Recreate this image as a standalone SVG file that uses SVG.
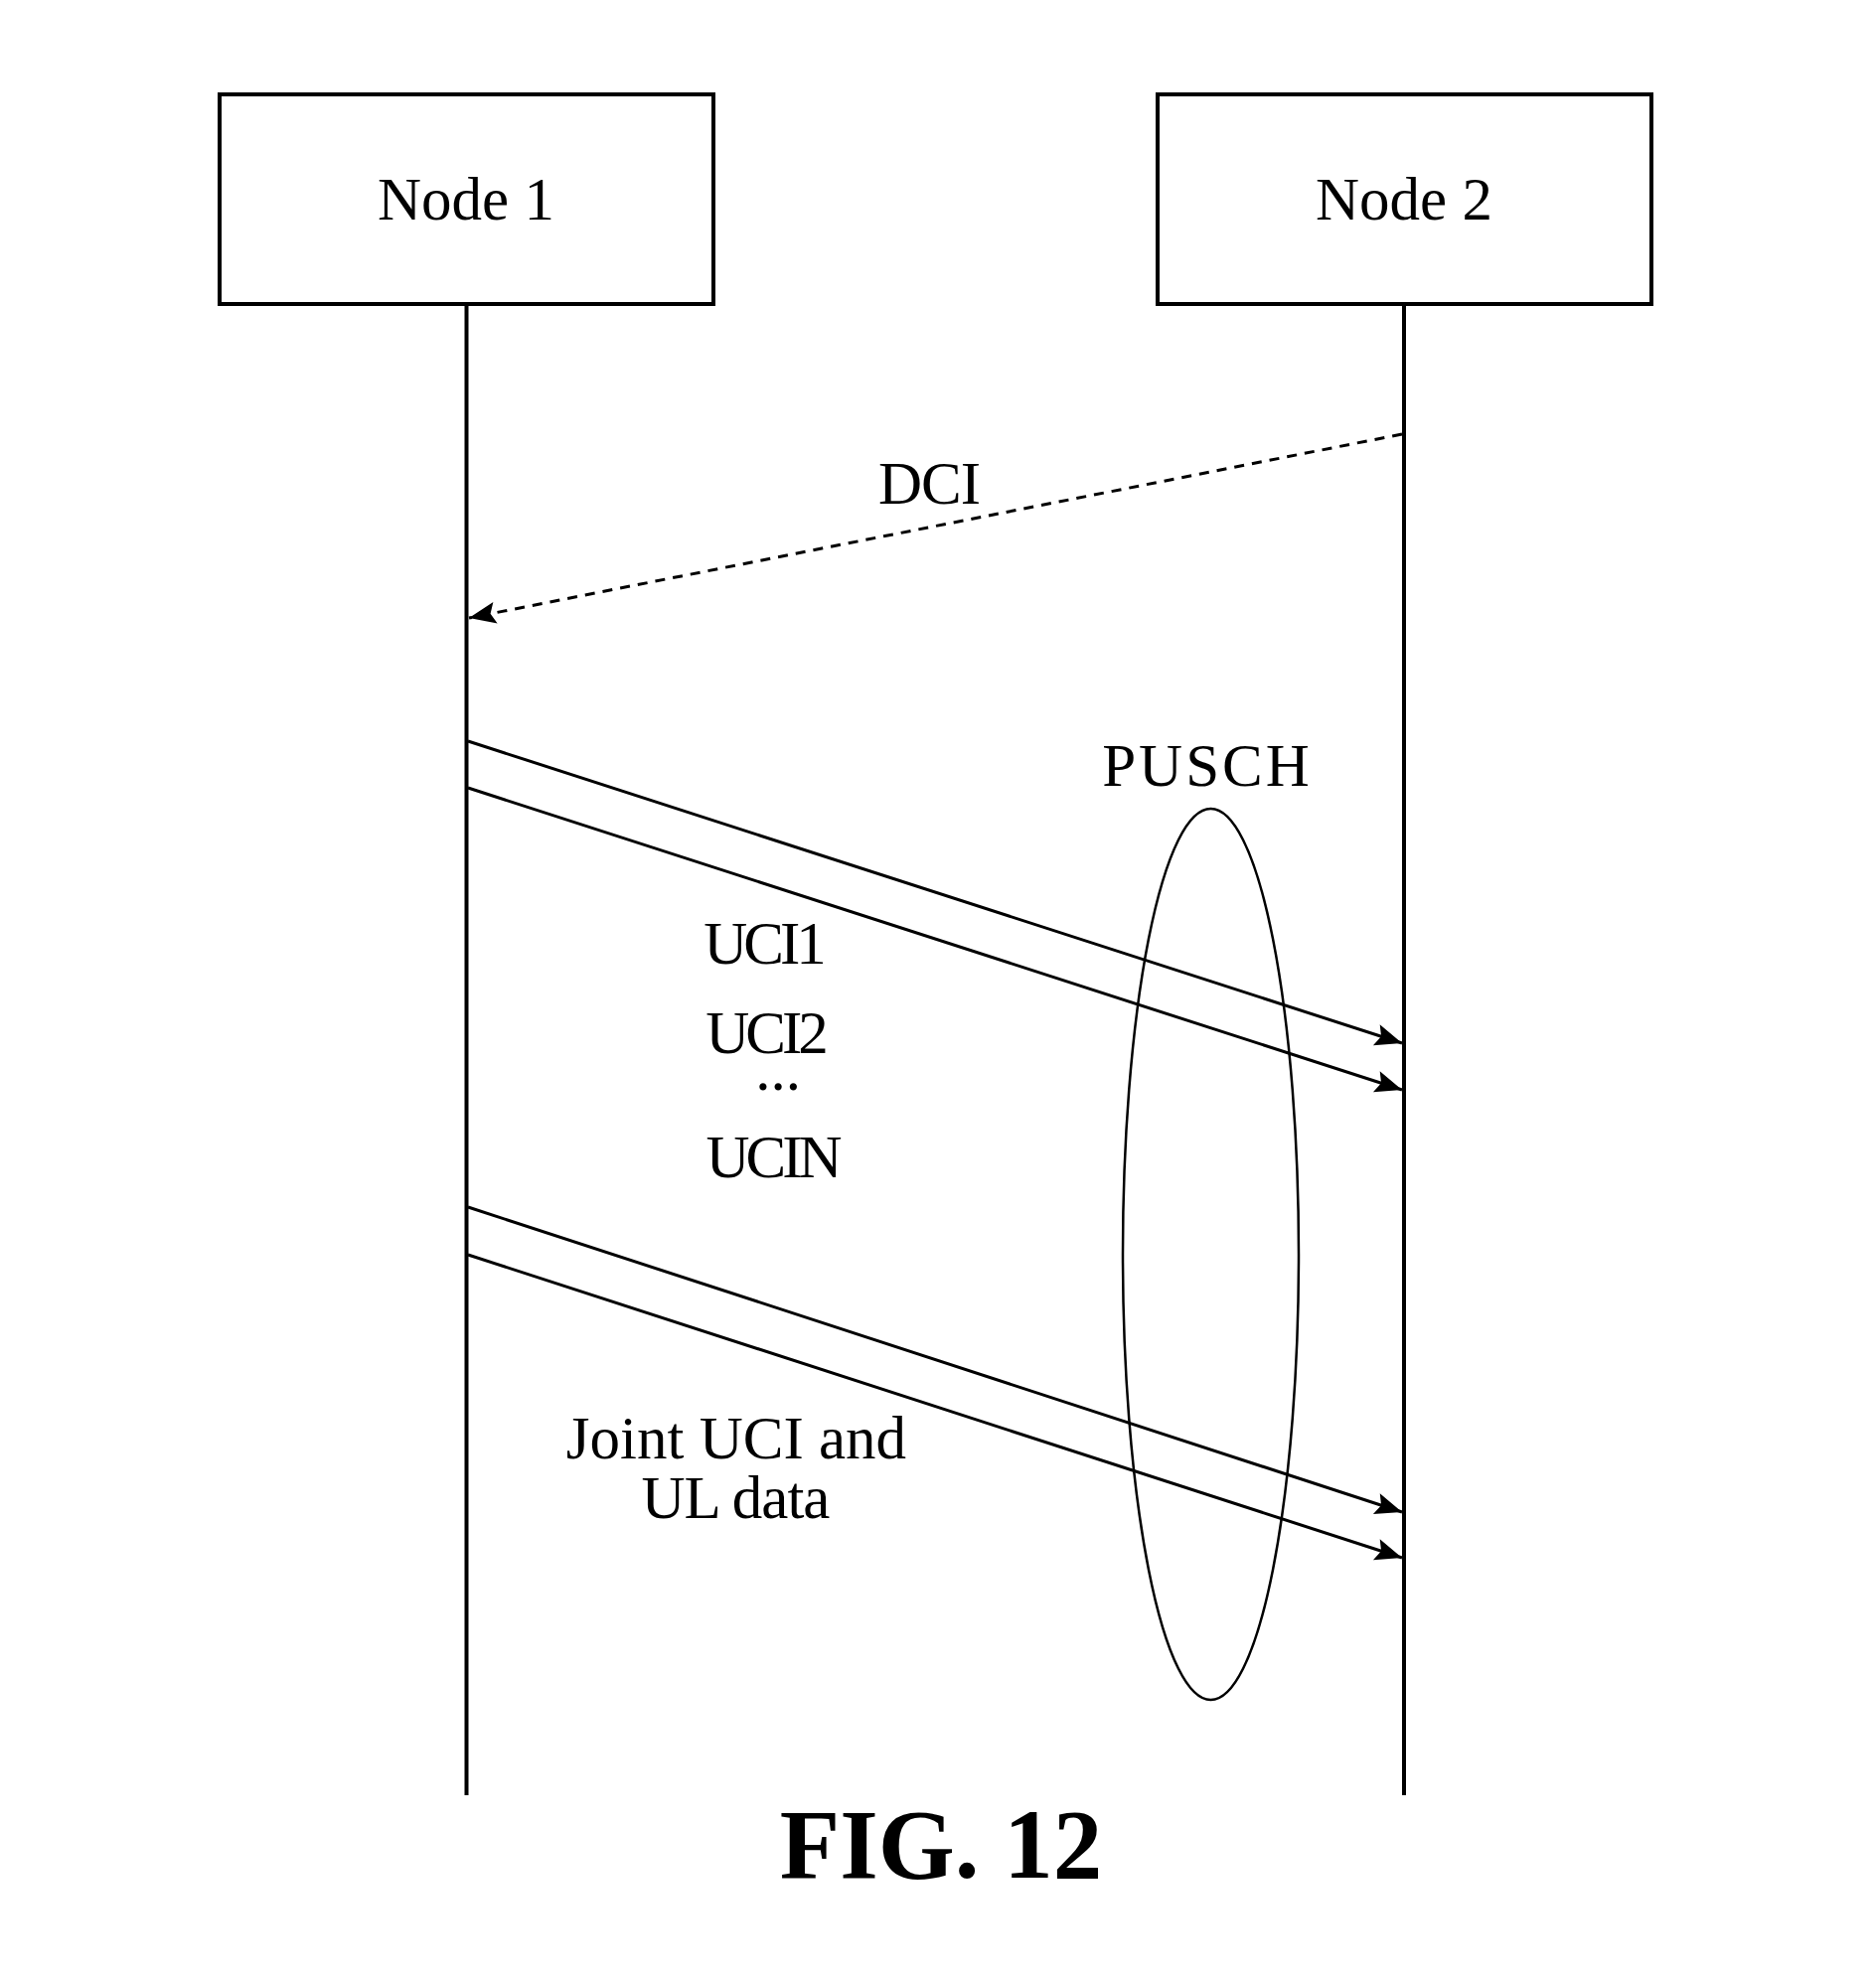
<svg xmlns="http://www.w3.org/2000/svg" width="1888" height="1993" viewBox="0 0 1888 1993">
<style>
.box{fill:#fff;stroke:#000;stroke-width:4}
.life{stroke:#000;stroke-width:4;fill:none}
.msg{stroke:#000;stroke-width:3;fill:none}
.dash{stroke:#000;stroke-width:3;fill:none;stroke-dasharray:10 8}
.t{font-family:"Liberation Serif","Times New Roman",serif;font-size:61px;fill:#000}
.fig{font-family:"Liberation Serif","Times New Roman",serif;font-size:99px;font-weight:bold;fill:#000}
</style>
<defs>
<marker id="ah" markerUnits="userSpaceOnUse" viewBox="-30 -14 32 28" markerWidth="32" markerHeight="28" refX="0" refY="0" orient="auto">
<path d="M0,0 L-27,-11 L-22,0 L-27,11 Z" fill="#000"/>
</marker>
</defs>
<rect width="1888" height="1993" fill="#fff"/>
<g id="node1">
<rect class="box" x="221" y="95" width="497" height="211"/>
<text class="t" x="469" y="221" text-anchor="middle">Node 1</text>
</g>
<g id="node2">
<rect class="box" x="1165" y="95" width="497" height="211"/>
<text class="t" x="1413" y="221" text-anchor="middle">Node 2</text>
</g>
<g id="lifelines">
<line class="life" x1="469.5" y1="306" x2="469.5" y2="1807"/>
<line class="life" x1="1413" y1="306" x2="1413" y2="1807"/>
</g>
<g id="pusch">
<ellipse cx="1218.5" cy="1262.5" rx="88.5" ry="448.5" fill="none" stroke="#000" stroke-width="2.5"/>
<text class="t" x="1215" y="791" text-anchor="middle" letter-spacing="3">PUSCH</text>
</g>
<g id="connectors">
<line class="dash" x1="1411" y1="437" x2="472" y2="622" marker-end="url(#ah)"/>
<line class="msg" x1="471" y1="746" x2="1411" y2="1050" marker-end="url(#ah)"/>
<line class="msg" x1="471" y1="793" x2="1411" y2="1097" marker-end="url(#ah)"/>
<line class="msg" x1="471" y1="1215" x2="1411" y2="1522" marker-end="url(#ah)"/>
<line class="msg" x1="471" y1="1263" x2="1411" y2="1568" marker-end="url(#ah)"/>
</g>
<g id="labels">
<text class="t" x="935" y="507" text-anchor="middle" letter-spacing="-1">DCI</text>
<text class="t" x="768" y="970" text-anchor="middle" letter-spacing="-4">UCI1</text>
<text class="t" x="770" y="1060" text-anchor="middle" letter-spacing="-4">UCI2</text>
<text class="t" x="783" y="1097" text-anchor="middle">...</text>
<text class="t" x="777" y="1185" text-anchor="middle" letter-spacing="-4">UCIN</text>
<text class="t" x="741" y="1468" text-anchor="middle">Joint UCI and</text>
<text class="t" x="740" y="1528" text-anchor="middle" letter-spacing="-1">UL data</text>
</g>
<text class="fig" x="947" y="1890" text-anchor="middle">FIG. 12</text>
</svg>
